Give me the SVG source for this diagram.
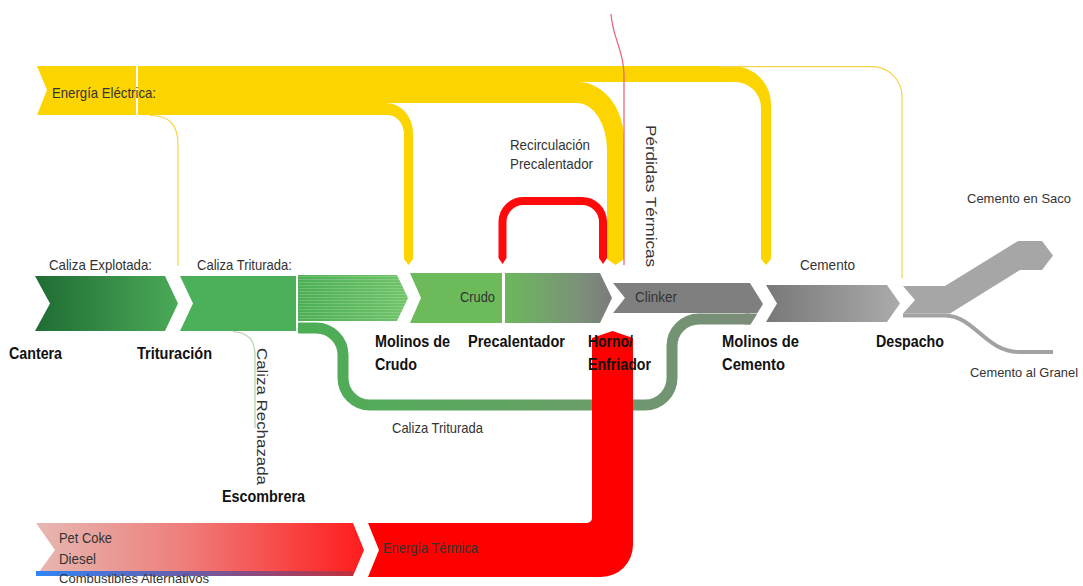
<svg xmlns="http://www.w3.org/2000/svg" width="1083" height="586" viewBox="0 0 1083 586">
<style>
.t{font-family:"Liberation Sans",Arial,sans-serif;font-size:15px;fill:#333}
.s{font-size:13px}
.b{font-family:"Liberation Sans",Arial,sans-serif;font-size:16px;font-weight:bold;fill:#111}
.y{fill:#fcd500}
.thin{fill:none;stroke-width:1.2}
</style>
<defs>
<linearGradient id="gCant" x1="0" y1="0" x2="1" y2="0"><stop offset="0" stop-color="#1f6c34"/><stop offset="1" stop-color="#4aaa57"/></linearGradient>
<linearGradient id="gStr" x1="0" y1="0" x2="1" y2="0"><stop offset="0" stop-color="#4caf55"/><stop offset="1" stop-color="#72c46a"/></linearGradient>
<pattern id="stripes" width="4" height="3" patternUnits="userSpaceOnUse"><rect width="4" height="1" fill="#ffffff" opacity="0.18"/></pattern>
<linearGradient id="gPre" x1="0" y1="0" x2="1" y2="0"><stop offset="0" stop-color="#6cb85c"/><stop offset="0.7" stop-color="#7c907a"/><stop offset="1" stop-color="#7b7b7b"/></linearGradient>
<linearGradient id="gCem" x1="0" y1="0" x2="1" y2="0"><stop offset="0" stop-color="#787878"/><stop offset="1" stop-color="#ababab"/></linearGradient>
<linearGradient id="gLoop" gradientUnits="userSpaceOnUse" x1="298" y1="0" x2="760" y2="0"><stop offset="0" stop-color="#4cae55"/><stop offset="0.5" stop-color="#62a263"/><stop offset="1" stop-color="#7d8b7b"/></linearGradient>
<linearGradient id="gFuel" x1="0" y1="0" x2="1" y2="0"><stop offset="0" stop-color="#e6b8b2"/><stop offset="0.45" stop-color="#ee7e7b"/><stop offset="1" stop-color="#ff1c1c"/></linearGradient>
<linearGradient id="gBlue" x1="0" y1="0" x2="1" y2="0"><stop offset="0" stop-color="#2f86f7"/><stop offset="0.5" stop-color="#6d5aa7"/><stop offset="1" stop-color="#c0303a"/></linearGradient>
</defs>

<g id="connectors">
  <!-- Energía eléctrica branches -->
  <path class="y" d="M138,66 H733 A38,38 0 0 1 771,104 V259 L766,265 L761,259 V108 A26,26 0 0 0 735,82 H138 Z"/>
  <path class="y" d="M138,82 H578 A46,58 0 0 1 624,140 V259 L615.5,265 L607,259 V150 A30,47 0 0 0 577,103 H138 Z"/>
  <path class="y" d="M138,103 H386 A27,30 0 0 1 413,133 V259 L408.5,265 L404,259 V135 A16,20 0 0 0 388,115 H138 Z"/>
  <path class="thin" stroke="#f5d547" d="M150,115.5 C170,115.5 178,125 178,145 V266"/>
  <path class="thin" stroke="#f5d547" d="M720,66.6 H872 A30,30 0 0 1 902,96.6 V278"/>
  <!-- Pérdidas térmicas -->
  <path class="thin" stroke="#ec5a74" d="M611,14 C613,40 624,50 624,75 V265"/>
  <!-- Recirculación precalentador -->
  <path fill="none" stroke="#ff0a0a" stroke-width="8" d="M502.5,258 V222 A21,21 0 0 1 523.5,201 H582 A21,21 0 0 1 603,222 V258"/>
  <polygon fill="#ff0a0a" points="498.5,258 506.5,258 502.5,264"/>
  <polygon fill="#ff0a0a" points="599,258 607,258 603,264"/>
  <!-- Caliza rechazada -->
  <path class="thin" stroke="#b3cfab" d="M233,331.5 C249,333 255,340 255,356 V428"/>
  <!-- Caliza triturada loop -->
  <path fill="none" stroke="url(#gLoop)" stroke-width="11" d="M298,328 H316 A27,27 0 0 1 343,355 V378 A27,27 0 0 0 370,405 H645 A27,27 0 0 0 672,378 V346 A27,27 0 0 1 699,319 H750"/>
  <polygon fill="#7d8b7b" points="745,313.5 757.4,313.5 750.6,324.5 745,324.5"/>
  <!-- Cemento al granel line -->
  <path fill="none" stroke="#a2a2a2" stroke-width="4" d="M903,315.5 H945 C975,316 985,352 1020,352 H1053"/>
</g>

<g id="energia-electrica">
  <polygon class="y" points="37,66 136,66 136,115 37,115 47,90"/>
  <text class="t" x="52" y="98" textLength="104" lengthAdjust="spacingAndGlyphs">Energía Eléctrica:</text>
</g>

<g id="cantera">
  <polygon fill="url(#gCant)" points="35,276 165,276 178,303.5 165,331 35,331 50,303.5"/>
  <text class="t" x="49" y="270" textLength="103" lengthAdjust="spacingAndGlyphs">Caliza Explotada:</text>
  <text class="b" x="9" y="359" textLength="53" lengthAdjust="spacingAndGlyphs">Cantera</text>
</g>

<g id="trituracion">
  <polygon fill="#4caf5a" points="180,276 296,276 296,331 180,331 193,303.5"/>
  <text class="t" x="197" y="270" textLength="95" lengthAdjust="spacingAndGlyphs">Caliza Triturada:</text>
  <text class="b" x="137" y="359" textLength="75" lengthAdjust="spacingAndGlyphs">Trituración</text>
</g>

<g id="caliza-triturada-flujo">
  <polygon fill="url(#gStr)" points="298,275 397,275 408,298 397,321 298,321"/>
  <polygon fill="url(#stripes)" points="298,275 397,275 408,298 397,321 298,321"/>
</g>

<g id="molinos-crudo">
  <polygon fill="#6cba5a" points="410,273 502,273 502,323 410,323 421,298"/>
  <text class="t" x="460" y="302" textLength="35" lengthAdjust="spacingAndGlyphs">Crudo</text>
  <text class="b" x="375" y="347" textLength="75" lengthAdjust="spacingAndGlyphs">Molinos de</text>
  <text class="b" x="375" y="370" textLength="42" lengthAdjust="spacingAndGlyphs">Crudo</text>
</g>

<g id="precalentador">
  <polygon fill="url(#gPre)" points="505,273 600,273 612,298 600,323 505,323"/>
  <text class="t" x="510" y="150" textLength="80" lengthAdjust="spacingAndGlyphs">Recirculación</text>
  <text class="t" x="510" y="169" textLength="83" lengthAdjust="spacingAndGlyphs">Precalentador</text>
  <text class="b" x="468" y="347" textLength="97" lengthAdjust="spacingAndGlyphs">Precalentador</text>
</g>

<g id="energia-termica">
  <polygon fill="url(#gFuel)" points="36,523 353,523 364,550 353,576 36,576 55,550"/>
  <rect x="36" y="571" width="317" height="5" fill="url(#gBlue)"/>
  <path fill="#ff0000" d="M368,523 H587 A5,5 0 0 0 592,518 V338 L612.5,331 L633,338 V545 A32,32 0 0 1 601,577 H368 L379,550 Z"/>
  <text class="t" x="59" y="543" textLength="53" lengthAdjust="spacingAndGlyphs">Pet Coke</text>
  <text class="t" x="59" y="564" textLength="37" lengthAdjust="spacingAndGlyphs">Diesel</text>
  <text class="t s" x="59" y="583" textLength="150" lengthAdjust="spacingAndGlyphs">Combustibles Alternativos</text>
  <text class="t" x="383" y="553" textLength="95" lengthAdjust="spacingAndGlyphs">Energía Térmica</text>
</g>

<g id="horno">
  <polygon fill="#7f7f7f" points="613,283 750,283 763,304 757.4,313 613,313 625,298"/>
  <text class="t" x="635" y="302" textLength="42" lengthAdjust="spacingAndGlyphs">Clinker</text>
  <text class="t" transform="translate(646,125) rotate(90)" x="0" y="0" textLength="142" lengthAdjust="spacingAndGlyphs">Pérdidas Térmicas</text>
  <text class="b" x="588" y="347" textLength="45" lengthAdjust="spacingAndGlyphs">Horno/</text>
  <text class="b" x="588" y="370" textLength="63" lengthAdjust="spacingAndGlyphs">Enfriador</text>
</g>

<g id="molinos-cemento">
  <polygon fill="url(#gCem)" points="766,285 887,285 900,303.5 887,322 766,322 777,303.5"/>
  <text class="t" x="800" y="270" textLength="55" lengthAdjust="spacingAndGlyphs">Cemento</text>
  <text class="b" x="722" y="347" textLength="77" lengthAdjust="spacingAndGlyphs">Molinos de</text>
  <text class="b" x="722" y="370" textLength="63" lengthAdjust="spacingAndGlyphs">Cemento</text>
</g>

<g id="despacho">
  <polygon fill="#a6a6a6" points="903,286 945,286 1018,241 1042,241 1053,255.5 1042,270 1020,270 950,313.5 903,313.5 915,300"/>
  <text class="b" x="876" y="347" textLength="68" lengthAdjust="spacingAndGlyphs">Despacho</text>
  <text class="t s" x="967" y="203" textLength="104" lengthAdjust="spacingAndGlyphs">Cemento en Saco</text>
  <text class="t s" x="970" y="377" textLength="108" lengthAdjust="spacingAndGlyphs">Cemento al Granel</text>
</g>

<g id="escombrera">
  <text class="t" transform="translate(257,348) rotate(90)" x="0" y="0" textLength="137" lengthAdjust="spacingAndGlyphs">Caliza Rechazada</text>
  <text class="b" x="222" y="502" textLength="83" lengthAdjust="spacingAndGlyphs">Escombrera</text>
</g>

<g id="caliza-triturada-retorno">
  <text class="t" x="392" y="433" textLength="91" lengthAdjust="spacingAndGlyphs">Caliza Triturada</text>
</g>
</svg>
